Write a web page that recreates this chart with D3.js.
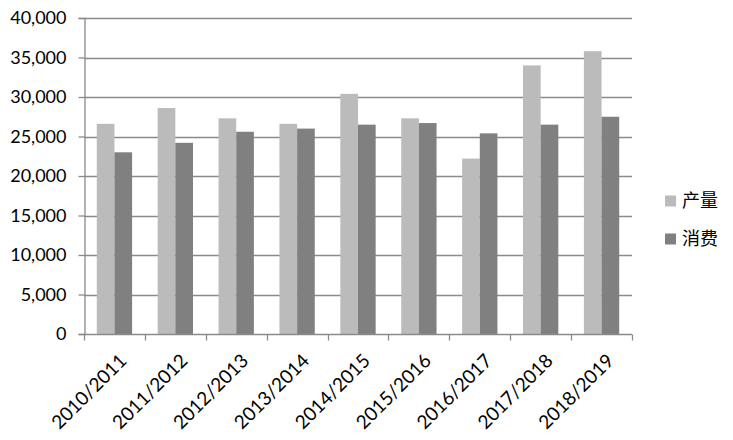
<!DOCTYPE html>
<html><head><meta charset="utf-8">
<script src="https://cdn.jsdelivr.net/npm/d3@7"></script>
<style>body{margin:0;background:#fff}</style>
</head><body>
<svg id="c" width="733" height="440"></svg>
<script>
const categories = ["2010/2011","2011/2012","2012/2013","2013/2014","2014/2015","2015/2016","2016/2017","2017/2018","2018/2019"];
const production = [26600, 28600, 27300, 26600, 30400, 27300, 22200, 34000, 35800];
const consumption = [23000, 24200, 25600, 26000, 26500, 26700, 25400, 26500, 27500];
const seriesNames = ["产量", "消费"];
const yTicks = [0,5000,10000,15000,20000,25000,30000,35000,40000];

const colors = ["#bbbbbb", "#808080"];
const grid = "#8a8a8a";
const svg = d3.select("#c");
const m = {l:84, r:101, t:18, b:106};
const W = 733, H = 440;
const x = d3.scaleBand().domain(categories).range([m.l, W - m.r]).paddingInner(0.42).paddingOuter(0.21);
const x1 = d3.scaleBand().domain([0,1]).range([0, x.bandwidth()]);
const y = d3.scaleLinear().domain([0, 40000]).range([H - m.b, m.t]);
const font = "Lato, 'Open Sans', sans-serif";

// gridlines
svg.append("g").selectAll("line").data(yTicks.filter(d=>d>0)).join("line")
  .attr("x1", m.l).attr("x2", W - m.r).attr("y1", d=>Math.round(y(d))+0.5).attr("y2", d=>Math.round(y(d))+0.5)
  .attr("stroke", grid).attr("stroke-width", 1.3);

// bars
const data = categories.map((c,i)=>({c, v:[production[i], consumption[i]]}));
const g = svg.append("g");
data.forEach(d=>{
  d.v.forEach((v,j)=>{
    g.append("rect").attr("x", x(d.c)+x1(j)).attr("width", x1.bandwidth())
      .attr("y", y(v)).attr("height", y(0)-y(v)).attr("fill", colors[j]);
  });
});

// y axis
const ya = svg.append("g").attr("transform", `translate(${m.l+0.5},0)`)
  .call(d3.axisLeft(y).tickValues(yTicks).tickFormat(d3.format(",")).tickSize(6).tickPadding(12));
ya.select(".domain").attr("stroke", grid).attr("stroke-width", 1.3);
ya.selectAll(".tick line").attr("stroke", grid).attr("stroke-width", 1.3);
ya.selectAll("text").attr("font-family", font).attr("font-size", 18).attr("fill", "#000");

// x axis
const xb = d3.scaleLinear().domain([0, categories.length]).range([m.l, W - m.r]);
const xa = svg.append("g").attr("transform", `translate(0,${Math.round(y(0))+0.5})`);
xa.append("line").attr("x1", m.l).attr("x2", W - m.r).attr("stroke", grid).attr("stroke-width", 1.3);
xa.selectAll("line.t").data(d3.range(categories.length+1)).join("line").attr("class","t")
  .attr("x1", d=>Math.round(xb(d))+0.5).attr("x2", d=>Math.round(xb(d))+0.5).attr("y1",0).attr("y2",6)
  .attr("stroke", grid).attr("stroke-width", 1.3);
xa.selectAll("text").data(categories).join("text")
  .attr("transform", d=>`translate(${x(d)+x.bandwidth()/2+4},${18}) rotate(-45)`)
  .attr("text-anchor", "end").attr("dy", "0.7em")
  .attr("font-family", font).attr("font-size", 19).attr("fill", "#000").text(d=>d);

// legend
const lg = svg.append("g");
seriesNames.forEach((n,i)=>{
  const yy = 201 + i*38;
  lg.append("rect").attr("x", 665).attr("y", yy-5.5).attr("width", 11).attr("height", 11).attr("fill", colors[i]);
  lg.append("text").attr("x", 682).attr("y", yy).attr("dy", "0.36em")
    .attr("font-family", "'Noto Sans CJK SC', sans-serif").attr("font-size", 18).attr("fill", "#000").text(n);
});
</script>
</body></html>
